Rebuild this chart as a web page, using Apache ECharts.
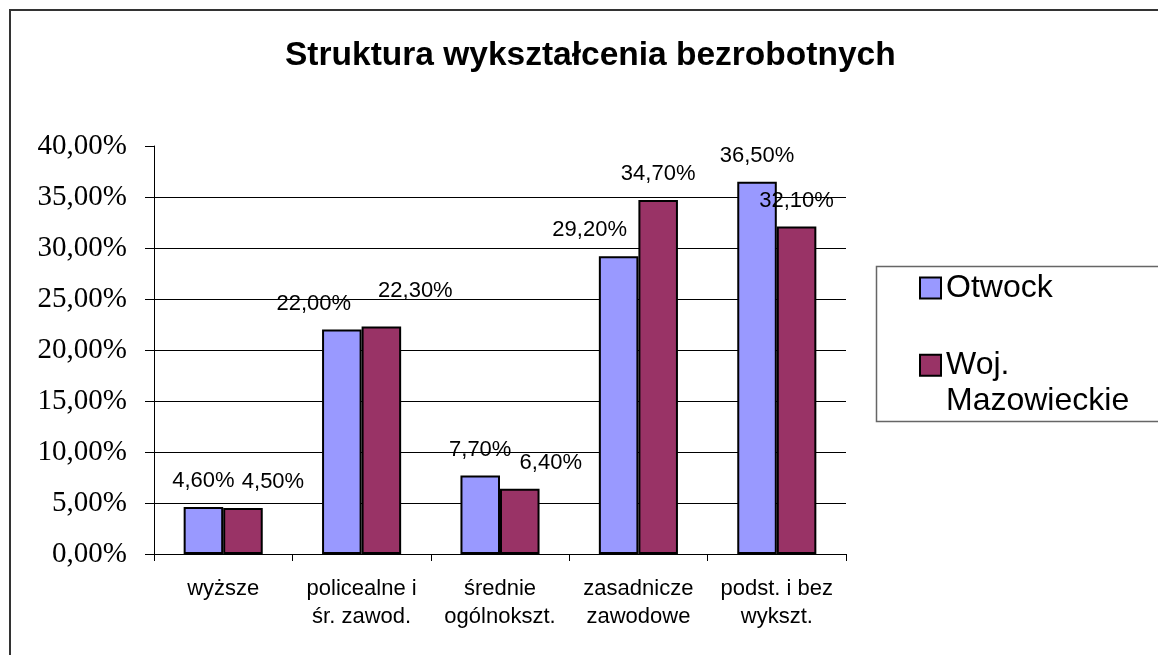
<!DOCTYPE html>
<html>
<head>
<meta charset="utf-8">
<script src="https://cdn.jsdelivr.net/npm/echarts@6/dist/echarts.min.js"></script>
<style>
  html, body { margin: 0; padding: 0; background: #fff; }
  #chart { width: 1158px; height: 655px; }
</style>
</head>
<body>
<div id="chart"></div>
<script>
// ---- data ----
const titleText = 'Struktura wykształcenia bezrobotnych';
const categories = ['wyższe', 'policealne i\nśr. zawod.', 'średnie\nogólnokszt.', 'zasadnicze\nzawodowe', 'podst. i bez\nwykszt.'];
const seriesNames = ['Otwock', 'Woj. Mazowieckie'];
const otwock = [4.6, 22.0, 7.7, 29.2, 36.5];
const mazowieckie = [4.5, 22.3, 6.4, 34.7, 32.1];
const yMin = 0, yMax = 40, yStep = 5;

// ---- layout / style (not data) ----
const otwockLabelShift = [[0, 0], [-28, 0], [0, 0], [-29, 0], [0, 0]];
const mazLabelShift = [[30, 0], [34, -10], [31, 0], [0, 0], [0, 0]];

const fmtPct = v => Number(v).toFixed(2).replace('.', ',') + '%';

function buildData(values, shifts) {
  return values.map((v, i) => ({
    value: v,
    label: { offset: shifts[i] }
  }));
}

const SANS = '"Liberation Sans", Arial, sans-serif';
const SERIF = '"Liberation Serif", "Times New Roman", serif';

const labelCommon = {
  show: true,
  position: 'top',
  distance: 15,
  fontFamily: SANS,
  fontSize: 22,
  color: '#000',
  formatter: p => fmtPct(p.value)
};

const chart = echarts.init(document.getElementById('chart'), null, { renderer: 'canvas' });

chart.setOption({
  backgroundColor: '#ffffff',
  animation: false,
  title: {
    text: titleText,
    left: 285,
    top: 39,
    padding: 0,
    textStyle: { fontFamily: SANS, fontSize: 33.5, fontWeight: 'bold', color: '#000' }
  },
  graphic: [
    {
      type: 'rect', silent: true, z: -1,
      shape: { x: 10, y: 10, width: 1300, height: 800 },
      style: { fill: 'none', stroke: '#333', lineWidth: 2 }
    },
    {
      type: 'rect', silent: true, z: -1,
      shape: { x: 876.5, y: 266.5, width: 400, height: 155 },
      style: { fill: 'none', stroke: '#666', lineWidth: 1.5 }
    }
  ],
  legend: [
    {
      data: [seriesNames[0]],
      orient: 'vertical',
      left: 919,
      top: 272,
      padding: 0,
      icon: 'rect',
      itemWidth: 21,
      itemHeight: 21,
      textStyle: { fontFamily: SANS, fontSize: 32, color: '#000' }
    },
    {
      data: [seriesNames[1]],
      orient: 'vertical',
      left: 919,
      top: 312,
      padding: 0,
      icon: 'rect',
      itemWidth: 21,
      itemHeight: 21,
      // leading empty line keeps the icon level with the first text line
      formatter: n => '\n' + n.replace(' ', '\n'),
      textStyle: { fontFamily: SANS, fontSize: 32, lineHeight: 35.5, color: '#000' }
    }
  ],
  grid: {
    left: 154,
    right: 312,
    top: 146,
    bottom: 101,
    containLabel: false,
    outerBoundsMode: 'none'
  },
  xAxis: {
    type: 'category',
    data: categories,
    axisLine: { show: true, lineStyle: { color: '#000', width: 1 } },
    axisTick: { show: true, alignWithLabel: false, length: 7, lineStyle: { color: '#000' } },
    axisLabel: {
      interval: 0,
      margin: 21,
      fontFamily: SANS,
      fontSize: 22,
      lineHeight: 28,
      color: '#000'
    },
    splitLine: { show: false }
  },
  yAxis: {
    type: 'value',
    min: yMin,
    max: yMax,
    interval: yStep,
    axisLine: { show: true, lineStyle: { color: '#000', width: 1 } },
    axisTick: { show: true, length: 9, lineStyle: { color: '#000' } },
    axisLabel: {
      margin: 27,
      fontFamily: SERIF,
      fontSize: 29,
      color: '#000',
      formatter: v => fmtPct(v)
    },
    splitLine: { show: true, showMaxLine: false, lineStyle: { color: '#000', width: 1 } }
  },
  series: [
    {
      name: seriesNames[0],
      type: 'bar',
      data: buildData(otwock, otwockLabelShift),
      barGap: '0%',
      barCategoryGap: '42.86%',
      itemStyle: { color: '#9999FF', borderColor: '#000', borderWidth: 2 },
      label: labelCommon
    },
    {
      name: seriesNames[1],
      type: 'bar',
      data: buildData(mazowieckie, mazLabelShift),
      barGap: '0%',
      barCategoryGap: '42.86%',
      itemStyle: { color: '#993366', borderColor: '#000', borderWidth: 2 },
      label: labelCommon
    }
  ]
});
</script>
</body>
</html>
